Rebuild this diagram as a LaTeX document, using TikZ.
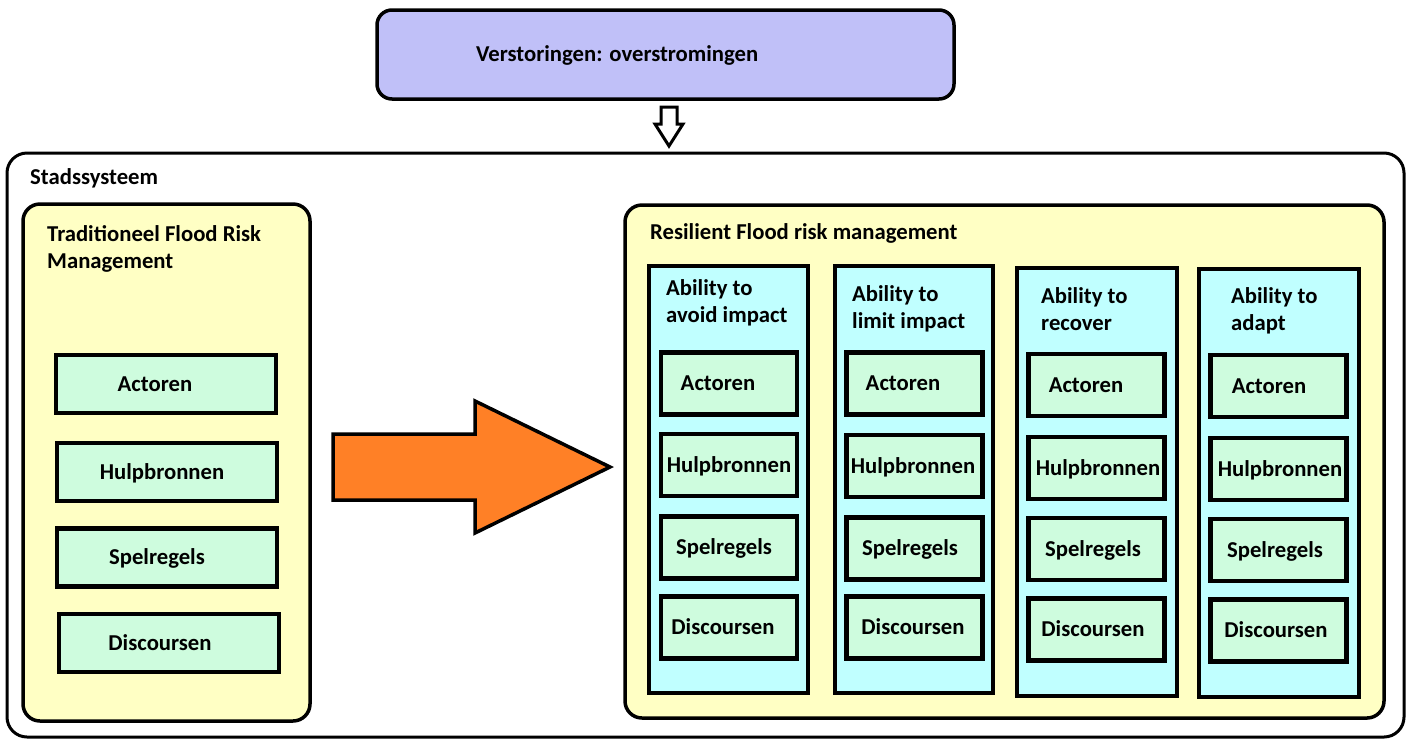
\documentclass[tikz,border=0pt]{standalone}
\usepackage{fontspec}
\setmainfont{Carlito}
\definecolor{lavender}{RGB}{192,192,248}
\definecolor{paleyellow}{RGB}{255,255,196}
\definecolor{palegreen}{RGB}{206,252,222}
\definecolor{palecyan}{RGB}{192,255,255}
\definecolor{flamingo}{RGB}{255,128,38}
\begin{document}
\begin{tikzpicture}[x=1pt,y=-1pt,
  every node/.style={font=\bfseries\fontsize{22.7}{27}\selectfont, inner sep=0pt},
  label/.style={anchor=base west, align=left},
  topbox/.style={draw=black, line width=3.5pt, fill=lavender, rounded corners=15pt},
  framebox/.style={draw=black, line width=3pt, fill=white, rounded corners=20pt},
  panel/.style={draw=black, line width=3.5pt, fill=paleyellow, rounded corners=17pt},
  column/.style={draw=black, line width=4pt, fill=palecyan},
  item/.style={draw=black, line width=4.5pt, fill=palegreen,
               text height=14pt, text depth=0pt},
  % moves the text sideways inside its box by half the given amount
  nudge/.style={execute at begin node={\hspace*{#1}}},
  lefti/.style={item, minimum width=220pt, minimum height=58pt},
  coli/.style={item, minimum width=136pt, minimum height=62pt},
  bigarrow/.style={draw=black, line width=3.5pt, fill=flamingo, line join=miter},
  smallarrow/.style={draw=black, line width=3pt, fill=white, line join=miter}
]
\useasboundingbox (0,0) rectangle (1410,740);

% disturbance box
\node[topbox, minimum width=577pt, minimum height=89pt] (top) at (665.5,54.5) {};
\node[label] (toplbl) at (476,61) {Verstoringen: overstromingen};

% urban system frame
\node[framebox, minimum width=1397pt, minimum height=584pt] (city) at (705.5,445) {};
\node[label] (citylbl) at (30,184) {Stadssysteem};

% hollow arrow from the disturbance into the system
\draw[smallarrow] (661,107) -- (677,107) -- (677,124) -- (683,124) -- (669,146)
  -- (655,124) -- (661,124) -- cycle;

% traditional flood risk management
\node[panel, minimum width=287pt, minimum height=517pt] (trad) at (166.5,462.5) {};
\node[label] (tradlbl) at (47,268) {Traditioneel Flood Risk\\Management};
\node[lefti, nudge=-22pt] (ta) at (166,384) {Actoren};
\node[lefti, nudge=-10pt] (th) at (167,472) {Hulpbronnen};
\node[lefti, nudge=-20pt] (ts) at (167,557.5) {Spelregels};
\node[lefti, nudge=-18pt] (td) at (169,643) {Discoursen};

% transition arrow
\draw[bigarrow] (333,434) -- (475,434) -- (475,401) -- (610,467) -- (475,533)
  -- (475,500) -- (333,500) -- cycle;

% resilient flood risk management
\node[panel, minimum width=759pt, minimum height=513pt] (res) at (1004.5,461.5) {};
\node[label] (reslbl) at (650,239) {Resilient Flood risk management};

% capacity columns
\node[column, minimum width=159pt, minimum height=427pt] (c1) at (728.5,479.5) {};
\node[column, minimum width=158pt, minimum height=427pt] (c2) at (914,479.5) {};
\node[column, minimum width=160pt, minimum height=428pt] (c3) at (1097,482) {};
\node[column, minimum width=160pt, minimum height=428pt] (c4) at (1279,483) {};

\node[label] (c1lbl) at (666,322) {Ability to\\avoid impact};
\node[label] (c2lbl) at (852,328) {Ability to\\limit impact};
\node[label] (c3lbl) at (1041,330) {Ability to\\recover};
\node[label] (c4lbl) at (1231,330) {Ability to\\adapt};

\node[coli, nudge=-22pt] (a1) at (729,383.5) {Actoren};
\node[coli]              (h1) at (729,465) {Hulpbronnen};
\node[coli, nudge=-10pt] (s1) at (729,547.5) {Spelregels};
\node[coli, nudge=-12pt] (d1) at (729,627.5) {Discoursen};

\node[coli, nudge=-23pt] (a2) at (914.5,383.5) {Actoren};
\node[coli, nudge=-3pt]  (h2) at (914.5,466) {Hulpbronnen};
\node[coli, nudge=-9pt]  (s2) at (914.5,548.5) {Spelregels};
\node[coli, nudge=-3pt]  (d2) at (914.5,627.5) {Discoursen};

\node[coli, nudge=-21pt] (a3) at (1096.5,385) {Actoren};
\node[coli, nudge=3pt]   (h3) at (1096.5,468) {Hulpbronnen};
\node[coli, nudge=-7pt]  (s3) at (1096.5,549) {Spelregels};
\node[coli, nudge=-7pt]  (d3) at (1096.5,629.5) {Discoursen};

\node[coli, nudge=-19pt] (a4) at (1278.5,386) {Actoren};
\node[coli, nudge=3pt]   (h4) at (1278.5,469) {Hulpbronnen};
\node[coli, nudge=-7pt]  (s4) at (1278.5,550) {Spelregels};
\node[coli, nudge=-5pt]  (d4) at (1278.5,630.5) {Discoursen};
\end{tikzpicture}
\end{document}
